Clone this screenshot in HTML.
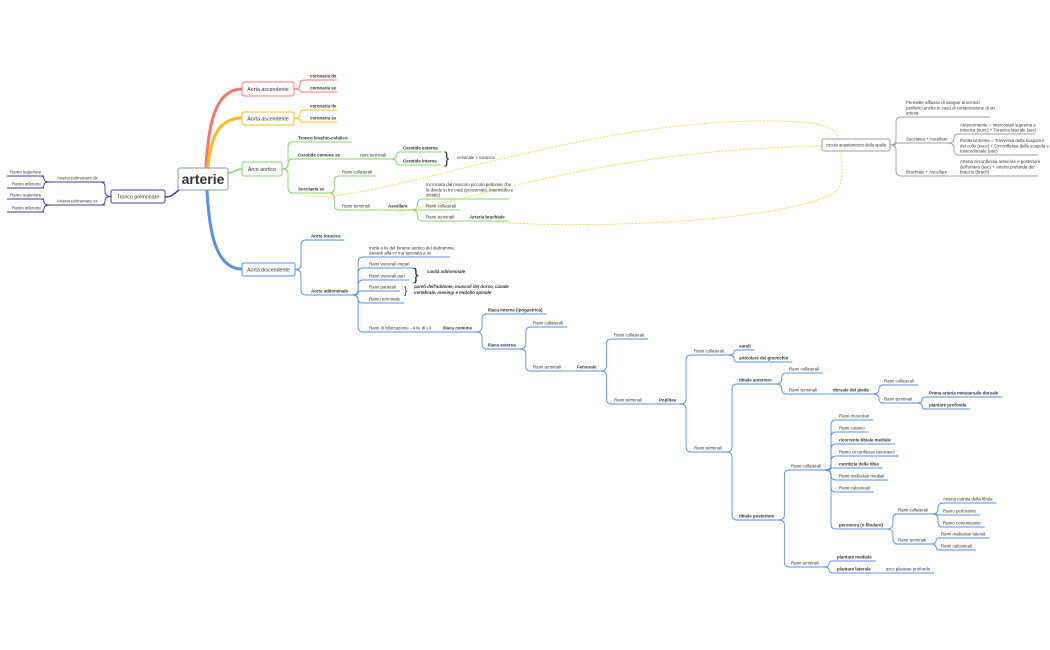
<!DOCTYPE html>
<html><head><meta charset="utf-8"><style>
html,body{margin:0;padding:0;background:#fff;width:1050px;height:650px;overflow:hidden}
svg{display:block}
text{font-family:"Liberation Sans",sans-serif;fill:#333}
</style></head><body>
<svg id="s" width="1050" height="650" viewBox="0 0 1050 650" xmlns="http://www.w3.org/2000/svg">
<g id="lines"></g><g id="boxes"></g><g id="texts"></g>
</svg>
<script>
const NS="http://www.w3.org/2000/svg";
const L=document.getElementById('lines'),B=document.getElementById('boxes'),T=document.getElementById('texts');
function el(p,tag,a){const e=document.createElementNS(NS,tag);for(const k in a)e.setAttribute(k,a[k]);p.appendChild(e);return e;}
const C={r:'#f5786c',o:'#f8bc22',g:'#88d070',b:'#5a90e0',p:'#4a3a9a',y:'#9aa0a8'};
const N={};
function box(id,x,y,w,h,t,c,fs){el(B,'rect',{x:x,y:y,width:w,height:h,rx:2,fill:'#fff',stroke:c,'stroke-width':1});
 const tt=el(T,'text',{x:x+w/2,y:y+h/2+fs*0.35,'font-size':fs,'text-anchor':'middle','font-weight':fs>10?'bold':'normal',fill:'#222'});tt.textContent=t;
 N[id]={x0:x,x1:x+w,y:y+h/2,c:c};}
box('ctr',178,168,50,22,'arterie','#8a9ab0',14);
box('A1',242,82,52,14,'Aorta ascendente',C.r,5.3);
box('A2',242,112,52,13,'Aorta ascendente',C.o,5.3);
box('AR',242,162,40,14,'Arco aortico',C.g,5.3);
box('AD',242,263,53,13,'Aorta discendente',C.b,5.3);
box('TP',111,190,54,13,'Tronco polmonare',C.p,5.3);
box('CI',822,139,68,12,'circolo anastomotico della spalla',C.y,4.2);
function trunk(x1,y1,x2,y2,c,w){el(L,'path',{d:`M${x1},${y1} C${x1+2},${(y1+y2)/2} ${x1+8},${y2} ${x2},${y2}`,fill:'none',stroke:c,'stroke-width':w,'stroke-linecap':'round'});}
trunk(206,168,242,89,C.r,3);trunk(208,168,242,118,C.o,3);trunk(207,190,242,269,C.b,3);
el(L,'path',{d:'M228,173 C235,173 235,169 242,169',fill:'none',stroke:C.g,'stroke-width':1.5});
el(L,'path',{d:'M180,189 C172,196 170,197 165,197',fill:'none',stroke:C.p,'stroke-width':1.5});
function con(x1,y1,x2,y2,c,dir){dir=dir||1;const mx=x1+dir*6;const dy=y2-y1;const s=dy>0?1:-1;const r=Math.min(5,Math.abs(dy)/2);
 let d;if(Math.abs(dy)<0.5)d=`M${x1},${y1} L${x2},${y2}`;else d=`M${x1},${y1} Q${mx},${y1} ${mx},${y1+s*r} L${mx},${y2-s*r} Q${mx},${y2} ${mx+dir*r},${y2} L${x2},${y2}`;
 el(L,'path',{d:d,fill:'none',stroke:c,'stroke-width':0.9});}
const FS=4.4;
function node(id,par,x,y,t,bold,c,opt){opt=opt||{};const lines=Array.isArray(t)?t:[t];let w=0;
 lines.forEach((ln,i)=>{const tt=el(T,'text',{x:x,y:y-2.3-(lines.length-1-i)*5.4,'font-size':FS,'font-weight':bold?'bold':'normal','font-style':opt.it?'italic':'normal',fill:bold?'#222':'#555'});tt.textContent=ln;w=Math.max(w,tt.getComputedTextLength());});
 const x0=x-3,x1=opt.ul?opt.ul:x+w+4;
 el(L,'line',{x1:x0,y1:y,x2:x1,y2:y,stroke:c,'stroke-width':0.9});
 N[id]={x0:x0,x1:x1,y:y,c:c};
 if(par){const p=N[par];con(p.x1,p.y,x0,y,c);}
}
node('r1','A1',310,80,'coronaria dx',1,C.r,{ul:337});node('r2','A1',310,92,'coronaria sx',1,C.r,{ul:337});
node('o1','A2',310,110,'coronaria dx',1,C.o,{ul:337});node('o2','A2',310,122,'coronaria sx',1,C.o,{ul:337});
const g=C.g;
node('tb','AR',298,142,'Tronco brachio-cefalico',1,g);
node('cc','AR',298,159,'Carotide comune sx',1,g);
node('sx','AR',298,193,'Succlavia sx',1,g);
node('rt1','cc',360,159,'rami terminali',0,g);
node('ce','rt1',403,152,'Carotide esterna',1,g);
node('cn','rt1',403,165,'Carotide interna',1,g);
node('rc','sx',342,176,'Rami collaterali',0,g);
node('rt2','sx',342,210,'Rami terminali',0,g);
node('as','rt2',388,210,'Ascellare',1,g);
node('ad','as',426,199,['Incrociata dal muscolo piccolo pettorale che','la divide in tre tratti (prossimale, intermedio e','distale)'],0,g,{ul:510});
node('arc','as',426,210,'Rami collaterali',0,g);
node('art','as',426,221,'Rami terminali',0,g);
node('ab','art',470,221,'Arteria brachiale',1,g);
function tx(x,y,t,fs,o){o=o||{};const tt=el(T,'text',Object.assign({x:x,y:y,'font-size':fs,fill:'#444'},o));tt.textContent=t;}
tx(444,163,'}',16,{fill:'#666'});tx(457,159,'cervicale + toracica',FS);
const yd={fill:'none',stroke:'#f8d030','stroke-width':0.8,'stroke-dasharray':'2,1.5'};
el(L,'path',Object.assign({d:'M305,196 C380,205 600,110 800,122 C830,124 838,132 838,139'},yd));
el(L,'path',Object.assign({d:'M395,212 C480,200 600,150 822,146'},yd));
el(L,'path',Object.assign({d:'M495,222 C600,230 800,220 838,190 C844,180 842,160 840,152'},yd));
const gy=C.y;
node('cd','CI',906,117,['Permette afflusso di sangue ai territori','periferici anche in caso di compressione di un','arteria'],0,gy,{ul:990});
node('sa','CI',906,143,'Succlavia + Ascellare',0,gy,{ul:948});
node('ba','CI',906,176,'Brachiale + Ascellare',0,gy,{ul:948});
node('s1','sa',960,134,['Anteriormente = Intercostali suprema e','toracica (succ) + Toracica laterale (asc)'],0,gy,{ul:1035});
node('s2','sa',960,155,['Posteriormente = Trasversa della scapola e','del collo (succ) + Circonflessa della scapola e','toracodorsale (asc)'],0,gy,{ul:1038});
node('b1','ba',960,176,['Arteria circonflessa anteriore e posteriore','dell\'omero (asc) + Arteria profonda del','braccio (brach)'],0,gy,{ul:1038});
const b=C.b;
node('at','AD',311,240,'Aorta toracica',1,b);
node('aa','AD',311,295,'Aorta addominale',1,b);
node('d1','aa',369,257,['Inizia a liv del forame aortico del diaframma,','davanti alla cv ma spostata a sx'],0,b,{ul:450});
node('v1','aa',369,268,'Rami viscerali impari',0,b);
node('v2','aa',369,280,'Rami viscerali pari',0,b);
node('rp','aa',369,291,'Rami parietali',0,b);
node('rtm','aa',369,303,'Ramo terminale',0,b);
node('rb','aa',369,332,'Rami di biforcazione - 4 liv di L4',0,b);
tx(413,280,'}',17,{fill:'#666'});tx(427,273,'cavità addominale',FS,{'font-weight':'bold','font-style':'italic'});
tx(404,294,'}',10,{fill:'#666'});
tx(414,288,'pareti dell\'addome, muscoli del dorso, canale',FS,{'font-weight':'bold','font-style':'italic'});
tx(414,294,'vertebrale, meningi e midollo spinale',FS,{'font-weight':'bold','font-style':'italic'});
node('ic','rb',443,332,'Iliaca comune',1,b);
node('ii','ic',488,314,'Iliaca interna (ipogastrica)',1,b);
node('ie','ic',488,349,'Iliaca esterna',1,b);
node('rc3','ie',533,327,'Rami collaterali',0,b);
node('rt3','ie',533,371,'Rami terminali',0,b);
node('fe','rt3',577,371,'Femorale',1,b);
node('rc4','fe',614,339,'Rami collaterali',0,b);
node('rt4','fe',614,404,'Rami terminali',0,b);
node('po','rt4',659,404,'Poplitea',1,b);
node('rc5','po',694,355,'Rami collaterali',0,b);
node('rt5','po',694,452,'Rami terminali',0,b);
node('su','rc5',739,350,'surali',1,b);
node('ag','rc5',739,362,'articolare del ginocchio',1,b);
node('ta','rt5',739,384,'tibiale anteriore',1,b);
node('tp','rt5',739,520,'tibiale posteriore',1,b);
node('rc6','ta',789,373,'Rami collaterali',0,b);
node('rt6','ta',789,394,'Rami terminali',0,b);
node('dp','rt6',833,394,'dorsale del piede',1,b);
node('rc7','dp',884,385,'Rami collaterali',0,b);
node('rt7','dp',884,403,'Rami terminali',0,b);
node('pm','rt7',929,397,'Prima arteria metatarsale dorsale',1,b);
node('pp','rt7',929,409,'plantare profonda',1,b);
node('rc8','tp',791,470,'Rami collaterali',0,b);
node('rt8','tp',791,567,'Rami terminali',0,b);
[[420,'Rami muscolari',0],[432,'Rami cutanei',0],[444,'ricorrente tibiale mediale',1],[456,'Ramo circonflesso peroniero',0],[468,'nutritizia della tibia',1],[480,'Rami malleolari mediali',0],[492,'Rami calcaneali',0]].forEach((a,i)=>node('k'+i,'rc8',839,a[0],a[1],a[2],b));
node('pe','rc8',839,529,'peroniera (o fibulare)',1,b);
node('rc9','pe',898,514,'Rami collaterali',0,b);
node('rt9','pe',898,544,'Rami terminali',0,b);
node('f1','rc9',943,503,'Arteria nutritia della fibula',0,b);
node('f2','rc9',943,515,'Ramo perforante',0,b);
node('f3','rc9',943,527,'Ramo comunicante',0,b);
node('f4','rt9',941,538,'Rami malleolari laterali',0,b);
node('f5','rt9',941,550,'Rami calcaneali',0,b);
node('pl1','rt8',837,561,'plantare mediale',1,b);
node('pl2','rt8',837,573,'plantare laterale',1,b);
node('ap','pl2',886,573,'arco plantare profondo',0,b);
function lnode(id,par,x0,x1,y,t,tx0){const tt=el(T,'text',{x:tx0,y:y-2.3,'font-size':FS,fill:'#555'});tt.textContent=t;
 el(L,'line',{x1:x0,y1:y,x2:x1,y2:y,stroke:C.p,'stroke-width':0.9});N[id]={x0:x0,x1:x1,y:y};
 const p=N[par];con(p.x0,p.y,x1,y,C.p,-1);}
lnode('pd','TP',50,105,182,'Arteria polmonare dx',57);
lnode('ps','TP',50,105,205,'Arteria polmonare sx',57);
lnode('q1','pd',7,44,176,'Ramo superiore',10);
lnode('q2','pd',7,44,188,'Ramo inferiore',12);
lnode('q3','ps',7,44,199,'Ramo superiore',10);
lnode('q4','ps',7,44,212,'Ramo inferiore',12);
</script>
</body></html>
